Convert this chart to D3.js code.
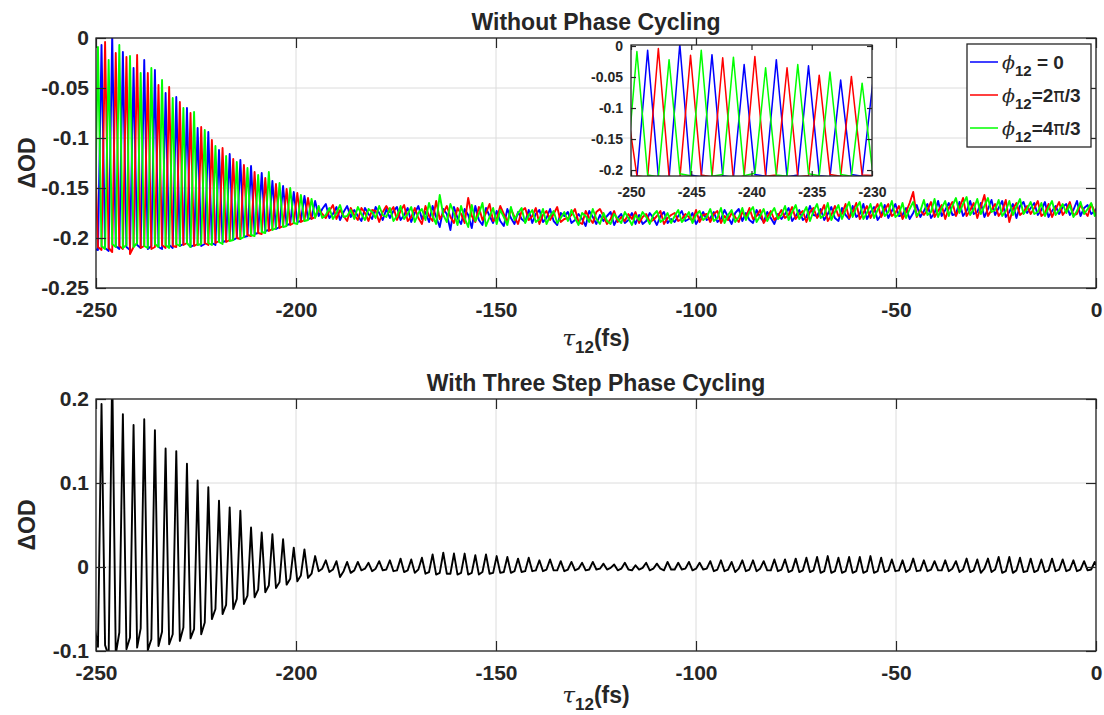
<!DOCTYPE html>
<html lang="en">
<head>
<meta charset="UTF-8" />
<title>Phase cycling</title>
<script src="https://d3js.org/d3.v7.min.js"></script>
<style>
  body { margin: 0; background: #fff; }
  svg { display: block; font-family: 'Liberation Sans', Arial, sans-serif; }
  text { fill: #262626; font-weight: bold; }
  .grid line { stroke: #dcdcdc; stroke-width: 1; }
  .box { fill: none; stroke: #262626; stroke-width: 1.3; }
  .tick line { stroke: #262626; stroke-width: 1.2; }
  .greek { font-family: 'DejaVu Serif', 'Liberation Serif', serif; font-weight: normal; }
  .pi { font-family: 'DejaVu Sans', sans-serif; font-weight: normal; }
</style>
</head>
<body>
<svg width="1104" height="715"></svg>
<script>
// delay stage sampling (fs)
const tauStart = -250.4;
const tauStep = 0.89;

// dOD in units of 1e-3
const phi0 = [ // blue, phi12 = 0
  -211,-212,-7,-210,-213,3,-208,-211,-14,-209,
  -212,-30,-207,-210,-22,-211,-208,-32,-209,-211,
  -55,-207,-210,-59,-208,-206,-70,-209,-207,-90,
  -208,-206,-94,-205,-207,-112,-204,-203,-116,-202,
  -200,-122,-199,-198,-128,-196,-195,-135,-193,-192,
  -143,-191,-189,-148,-187,-186,-154,-184,-183,-158,
  -181,-180,-163,
  -178,-171,-166,-180,-176,-169,-182,-174,-168,-179,
  -172,-178,-183,-170,-176,-181,-169,-175,-182,-171,
  -180,-173,-169,-182,-177,-170,-184,-175,-168,-181,
  -174,-184,-168,-179,-189,-171,-176,-192,-169,-180,
  -186,-171,-177,-190,-168,-182,-187,-170,-178,-185,
  -173,-183,-188,-171,-180,-186,-174,-181,-184,-172,
  -185,-176,-172,-184,-180,-171,-183,-187,-175,-178,
  -174,-185,-182,-176,-181,-188,-173,-179,-186,-177,
  -183,-178,-174,-187,-180,-176,-185,-182,-175,-186,
  -177,-186,-183,-175,-180,-187,-178,-174,-185,-181,
  -184,-178,-173,-183,-181,-175,-186,-180,-174,-182,
  -180,-174,-184,-181,-172,-179,-186,-175,-171,-183,
  -175,-182,-185,-172,-179,-184,-174,-180,-186,-176,
  -181,-176,-170,-183,-178,-172,-182,-179,-168,-177,
  -178,-171,-182,-176,-169,-180,-183,-170,-177,-181,
  -168,-179,-176,-166,-181,-174,-169,-182,-177,-167,
  -180,-173,-166,-178,-177,-170,-181,-175,-167,-179,
  -173,-166,-180,-175,-163,-178,-172,-165,-177,-176,
  -164,-178,-173,-163,-176,-174,-165,-179,-171,-162,
  -177,-170,-163,-179,-174,-166,-180,-168,-164,-175,
  -170,-165,-177,-172,-164,-179,-173,-168,-176,-169,
  -166,-177,-172,-163,-178,-170,-167,-176,-173,-168
];
const phi2pi3 = [ // red, phi12 = 2pi/3
  -90,-209,-212,-4,-210,-214,-15,-208,-211,-19,
  -216,-209,-17,-210,-208,-35,-211,-209,-47,-207,
  -210,-49,-208,-209,-64,-207,-205,-75,-208,-206,
  -89,-205,-207,-102,-205,-203,-110,-204,-202,-121,
  -200,-201,-127,-197,-198,-134,-195,-196,-140,-193,
  -191,-146,-190,-188,-151,-187,-185,-155,-184,-182,
  -160,-181,-179,
  -171,-176,-180,-173,-167,-181,-172,-178,-183,-170,
  -177,-182,-170,-175,-183,-172,-173,-184,-174,-168,
  -174,-169,-182,-173,-167,-183,-179,-170,-180,-186,
  -168,-178,-183,-163,-181,-175,-168,-179,-185,-170,
  -176,-185,-160,-178,-184,-169,-182,-175,-166,-183,
  -181,-168,-176,-184,-171,-179,-186,-173,-170,-182,
  -178,-170,-186,-177,-173,-182,-176,-169,-184,-181,
  -180,-177,-171,-184,-186,-173,-180,-185,-174,-171,
  -178,-186,-181,-173,-184,-179,-183,-176,-181,-174,
  -185,-179,-176,-184,-182,-178,-173,-186,-180,-177,
  -175,-183,-181,-176,-179,-183,-172,-184,-177,-176,
  -184,-176,-173,-185,-178,-182,-175,-179,-184,-174,
  -179,-170,-181,-178,-172,-185,-179,-173,-182,-178,
  -172,-180,-177,-169,-181,-176,-173,-184,-174,-170,
  -180,-175,-167,-183,-177,-168,-178,-176,-166,-180,
  -174,-165,-181,-175,-168,-180,-173,-166,-179,-172,
  -166,-178,-175,-168,-181,-174,-165,-154,-179,-172,
  -177,-172,-164,-179,-173,-167,-181,-170,-164,-178,
  -170,-160,-178,-172,-165,-180,-169,-157,-178,-172,
  -166,-178,-173,-162,-184,-171,-165,-177,-174,-168,
  -176,-170,-163,-178,-175,-166,-179,-171,-164,-177,
  -172,-164,-177,-176,-167,-173,-178,-166,-174,-175
];
const phi4pi3 = [ // green, phi12 = 4pi/3
  -210,-9,-208,-211,-22,-206,-209,-7,-210,-207,
  -18,-209,-205,-35,-208,-210,-30,-206,-209,-42,
  -207,-210,-60,-206,-208,-70,-205,-209,-74,-207,
  -206,-92,-205,-207,-108,-204,-206,-118,-203,-202,
  -124,-201,-199,-130,-197,-198,-137,-194,-195,-134,
  -192,-190,-145,-189,-188,-150,-185,-186,-157,-183,
  -182,-161,-180,
  -168,-180,-177,-170,-181,-175,-167,-179,-178,-172,
  -181,-169,-176,-182,-171,-174,-180,-168,-177,-179,
  -170,-183,-178,-168,-181,-176,-169,-184,-175,-171,
  -182,-165,-178,-186,-157,-177,-184,-166,-175,-187,
  -168,-180,-189,-167,-183,-176,-165,-188,-179,-170,
  -186,-172,-179,-187,-169,-182,-175,-170,-185,-177,
  -172,-184,-181,-171,-186,-178,-173,-185,-180,-174,
  -183,-172,-180,-187,-175,-178,-184,-171,-181,-186,
  -175,-183,-186,-176,-181,-185,-174,-180,-187,-177,
  -182,-174,-179,-186,-177,-173,-184,-181,-175,-185,
  -178,-172,-184,-180,-174,-185,-177,-173,-182,-179,
  -171,-183,-180,-170,-185,-177,-172,-184,-179,-170,
  -182,-174,-169,-184,-178,-171,-183,-176,-170,-181,
  -177,-168,-182,-174,-167,-181,-176,-169,-183,-173,
  -166,-180,-177,-165,-182,-174,-167,-181,-172,-164,
  -179,-170,-164,-181,-175,-166,-180,-172,-165,-178,
  -174,-163,-179,-176,-165,-180,-171,-164,-178,-173,
  -162,-177,-174,-161,-179,-170,-163,-178,-168,-160,
  -175,-166,-159,-177,-171,-161,-176,-168,-160,-174,
  -172,-162,-178,-173,-163,-177,-169,-161,-176,-171,
  -164,-176,-174,-165,-178,-170,-163,-177,-172,-166,
  -175,-167,-179,-173,-164,-176,-171,-165,-178,-170
];
const cycled = [ // black, three step phase cycling
  -70,-95,194,-93,-106,235,-104,-78,182,-98,
  -84,169,-96,-73,176,-99,-86,163,-94,-77,
  141,-92,-80,138,-88,-72,123,-85,-74,103,
  -80,-66,95,-62,-50,79,-56,-45,71,-50,
  -38,67,-44,-34,47,-36,-27,41,-30,-22,
  39,-25,-18,33,-21,-14,23,-17,-10,21,
  -13,-8,13,
  -5,-2,8,-6,-3,7,-12,-5,6,-7,
  -4,6,-4,-2,5,-5,-2,7,-4,-3,
  8,-5,-4,10,-6,-4,9,-7,-3,11,
  -8,-6,15,-9,-7,17,-8,-8,16,-9,
  -7,16,-9,-7,14,-9,-6,15,-8,-7,
  13,-7,-6,12,-7,-5,10,-6,-5,11,
  -5,-4,8,-5,-3,9,-4,-4,7,-5,
  -3,6,-4,-2,5,-4,-3,6,-3,-2,
  4,-3,-1,3,-4,-2,5,-3,-4,2,
  -3,-1,5,-4,-2,4,-2,-4,6,-3,
  -3,5,-3,-2,6,-4,-2,5,-3,-2,
  7,-5,-3,8,-5,-3,6,-6,-2,8,
  -5,-3,8,-5,-2,7,-4,-4,9,-5,
  -3,9,-6,-4,10,-6,-4,11,-6,-4,
  12,-7,-5,13,-7,-5,11,-7,-5,12,
  -7,-5,12,-7,-5,13,-7,-5,11,-6,
  -4,9,-5,-4,8,-6,-3,10,-5,-4,
  8,-5,-3,7,-4,-4,8,-5,-2,7,
  -6,-3,10,-6,-4,9,-7,-2,10,-6,
  -3,12,-7,-5,12,-7,-4,11,-6,-5,
  10,-6,-4,9,-6,-4,10,-5,-3,9,
  -5,-3,8,-5,-3,7,-4,-3,6,-3
];

const xTicks = [-250, -200, -150, -100, -50, 0];
const yTicksTop = [-0.25, -0.2, -0.15, -0.1, -0.05, 0];
const yTicksBot = [-0.1, 0, 0.1, 0.2];
const insetXTicks = [-250, -245, -240, -235, -230];
const insetYTicks = [-0.2, -0.15, -0.1, -0.05, 0];

const seriesTop = [
  { name: 'phi0', values: phi0, color: '#0000ff', label: ['\u00a0= 0'] },
  { name: 'phi2', values: phi2pi3, color: '#ff0000', label: ['=2', 'π', '/3'] },
  { name: 'phi4', values: phi4pi3, color: '#00ff00', label: ['=4', 'π', '/3'] }
];

const tau = d3.range(phi0.length).map(i => tauStart + i * tauStep);

const svg = d3.select('svg');
svg.append('rect').attr('width', 1104).attr('height', 715).attr('fill', '#fff');

const x = d3.scaleLinear().domain([-250, 0]).range([96, 1096]);
const yTop = d3.scaleLinear().domain([-0.25, 0]).range([288, 38]);
const yBot = d3.scaleLinear().domain([-0.1, 0.2]).range([651, 399]);

const fmt = d => String(+d.toFixed(3));

function grid(g, xs, ys, xt, yt) {
  const [xa, xb] = xs.range();
  const [yb, ya] = ys.range();
  const gg = g.append('g').attr('class', 'grid');
  gg.selectAll('line.gx').data(xt).join('line').attr('class', 'gx')
    .attr('x1', d => xs(d)).attr('x2', d => xs(d)).attr('y1', ya).attr('y2', yb);
  gg.selectAll('line.gy').data(yt).join('line').attr('class', 'gy')
    .attr('x1', xa).attr('x2', xb).attr('y1', d => ys(d)).attr('y2', d => ys(d));
}

function frame(g, xs, ys, xt, yt, o) {
  const [xa, xb] = xs.range();
  const [yb, ya] = ys.range();
  const style = sel => {
    sel.attr('font-size', o.font).attr('font-family', null).attr('color', '#262626');
    sel.select('.domain').remove();
  };
  g.append('g').attr('transform', `translate(0,${yb})`)
    .call(d3.axisBottom(xs).tickValues(xt).tickFormat(fmt)
      .tickSizeInner(-o.tick).tickSizeOuter(0).tickPadding(o.padX))
    .call(style);
  g.append('g').attr('transform', `translate(0,${ya})`)
    .call(d3.axisTop(xs).tickValues(xt).tickFormat('')
      .tickSizeInner(-o.tick).tickSizeOuter(0))
    .call(style);
  g.append('g').attr('transform', `translate(${xa},0)`)
    .call(d3.axisLeft(ys).tickValues(yt).tickFormat(fmt)
      .tickSizeInner(-o.tick).tickSizeOuter(0).tickPadding(o.padY))
    .call(style);
  g.append('g').attr('transform', `translate(${xb},0)`)
    .call(d3.axisRight(ys).tickValues(yt).tickFormat('')
      .tickSizeInner(-o.tick).tickSizeOuter(0))
    .call(style);
  g.append('rect').attr('class', 'box')
    .attr('x', xa).attr('y', ya).attr('width', xb - xa).attr('height', yb - ya);
}

function clip(id, xs, ys) {
  const [xa, xb] = xs.range();
  const [yb, ya] = ys.range();
  svg.append('clipPath').attr('id', id).append('rect')
    .attr('x', xa).attr('y', ya).attr('width', xb - xa).attr('height', yb - ya);
  return `url(#${id})`;
}

function xLabel(cx, base) {
  const t = svg.append('text').attr('x', cx).attr('y', base)
    .attr('text-anchor', 'middle').attr('font-size', 23);
  t.append('tspan').attr('class', 'greek').attr('font-style', 'italic').text('τ');
  t.append('tspan').attr('font-size', 17).attr('dy', 7).text('12');
  t.append('tspan').attr('dy', -7).text('(fs)');
}

function yLabel(cy) {
  svg.append('text').attr('transform', `translate(35,${cy}) rotate(-90)`)
    .attr('text-anchor', 'middle').attr('font-size', 23).text('ΔOD');
}

// ---------- top panel: without phase cycling ----------
const topPanel = svg.append('g');
grid(topPanel, x, yTop, xTicks, yTicksTop);
const clipTop = clip('clipTop', x, yTop);
const lineTop = d3.line().x((d, i) => x(tau[i])).y(d => yTop(d / 1000));
topPanel.append('g').attr('clip-path', clipTop).selectAll('path')
  .data(seriesTop).join('path')
  .attr('d', s => lineTop(s.values))
  .attr('fill', 'none').attr('stroke', s => s.color).attr('stroke-width', 1.9)
  .attr('stroke-linejoin', 'round');
frame(topPanel, x, yTop, xTicks, yTicksTop, { font: 21, tick: 10, padX: 14, padY: 7 });

svg.append('text').attr('x', 596).attr('y', 30).attr('text-anchor', 'middle')
  .attr('font-size', 23).text('Without Phase Cycling');
xLabel(596, 346);
yLabel(163);

// inset, first 20 fs
const xi = d3.scaleLinear().domain([-250, -230]).range([631, 872]);
const yi = d3.scaleLinear().domain([-0.2096, 0.0016]).range([176, 45]);
const inset = svg.append('g');
inset.append('rect').attr('x', 631).attr('y', 45).attr('width', 241).attr('height', 131)
  .attr('fill', '#fff');
const clipInset = clip('clipInset', xi, yi);
const lineInset = d3.line().x((d, i) => xi(tau[i])).y(d => yi(d / 1000));
inset.append('g').attr('clip-path', clipInset).selectAll('path')
  .data(seriesTop).join('path')
  .attr('d', s => lineInset(s.values.slice(0, 26)))
  .attr('fill', 'none').attr('stroke', s => s.color).attr('stroke-width', 1.5)
  .attr('stroke-linejoin', 'round');
frame(inset, xi, yi, insetXTicks, insetYTicks, { font: 14, tick: 5, padX: 11, padY: 8 });

// legend
const legend = svg.append('g');
legend.append('rect').attr('x', 967).attr('y', 44).attr('width', 124).attr('height', 103)
  .attr('fill', '#fff').attr('stroke', '#262626').attr('stroke-width', 1.3);
const items = legend.selectAll('g.item').data(seriesTop).join('g')
  .attr('class', 'item')
  .attr('transform', (d, i) => `translate(0,${62 + i * 33})`);
items.append('line').attr('x1', 970).attr('x2', 998)
  .attr('stroke', d => d.color).attr('stroke-width', 1.5);
items.each(function (d) {
  const t = d3.select(this).append('text').attr('x', 1002).attr('y', 7).attr('font-size', 19);
  t.append('tspan').attr('class', 'greek').attr('font-style', 'italic').text('ϕ');
  t.append('tspan').attr('font-size', 15).attr('dy', 7).text('12');
  d.label.forEach((p, k) => {
    const s = t.append('tspan').text(p);
    if (k === 0) s.attr('dy', -7);
    if (p === 'π') s.attr('class', 'pi');
  });
});

// ---------- bottom panel: three step phase cycling ----------
const botPanel = svg.append('g');
grid(botPanel, x, yBot, xTicks, yTicksBot);
const clipBot = clip('clipBot', x, yBot);
const lineBot = d3.line().x((d, i) => x(tau[i])).y(d => yBot(d / 1000));
botPanel.append('path').attr('clip-path', clipBot)
  .attr('d', lineBot(cycled))
  .attr('fill', 'none').attr('stroke', '#000').attr('stroke-width', 1.9)
  .attr('stroke-linejoin', 'round');
frame(botPanel, x, yBot, xTicks, yTicksBot, { font: 21, tick: 10, padX: 14, padY: 7 });

svg.append('text').attr('x', 596).attr('y', 391).attr('text-anchor', 'middle')
  .attr('font-size', 23).text('With Three Step Phase Cycling');
xLabel(596, 703);
yLabel(525);
</script>
</body>
</html>
